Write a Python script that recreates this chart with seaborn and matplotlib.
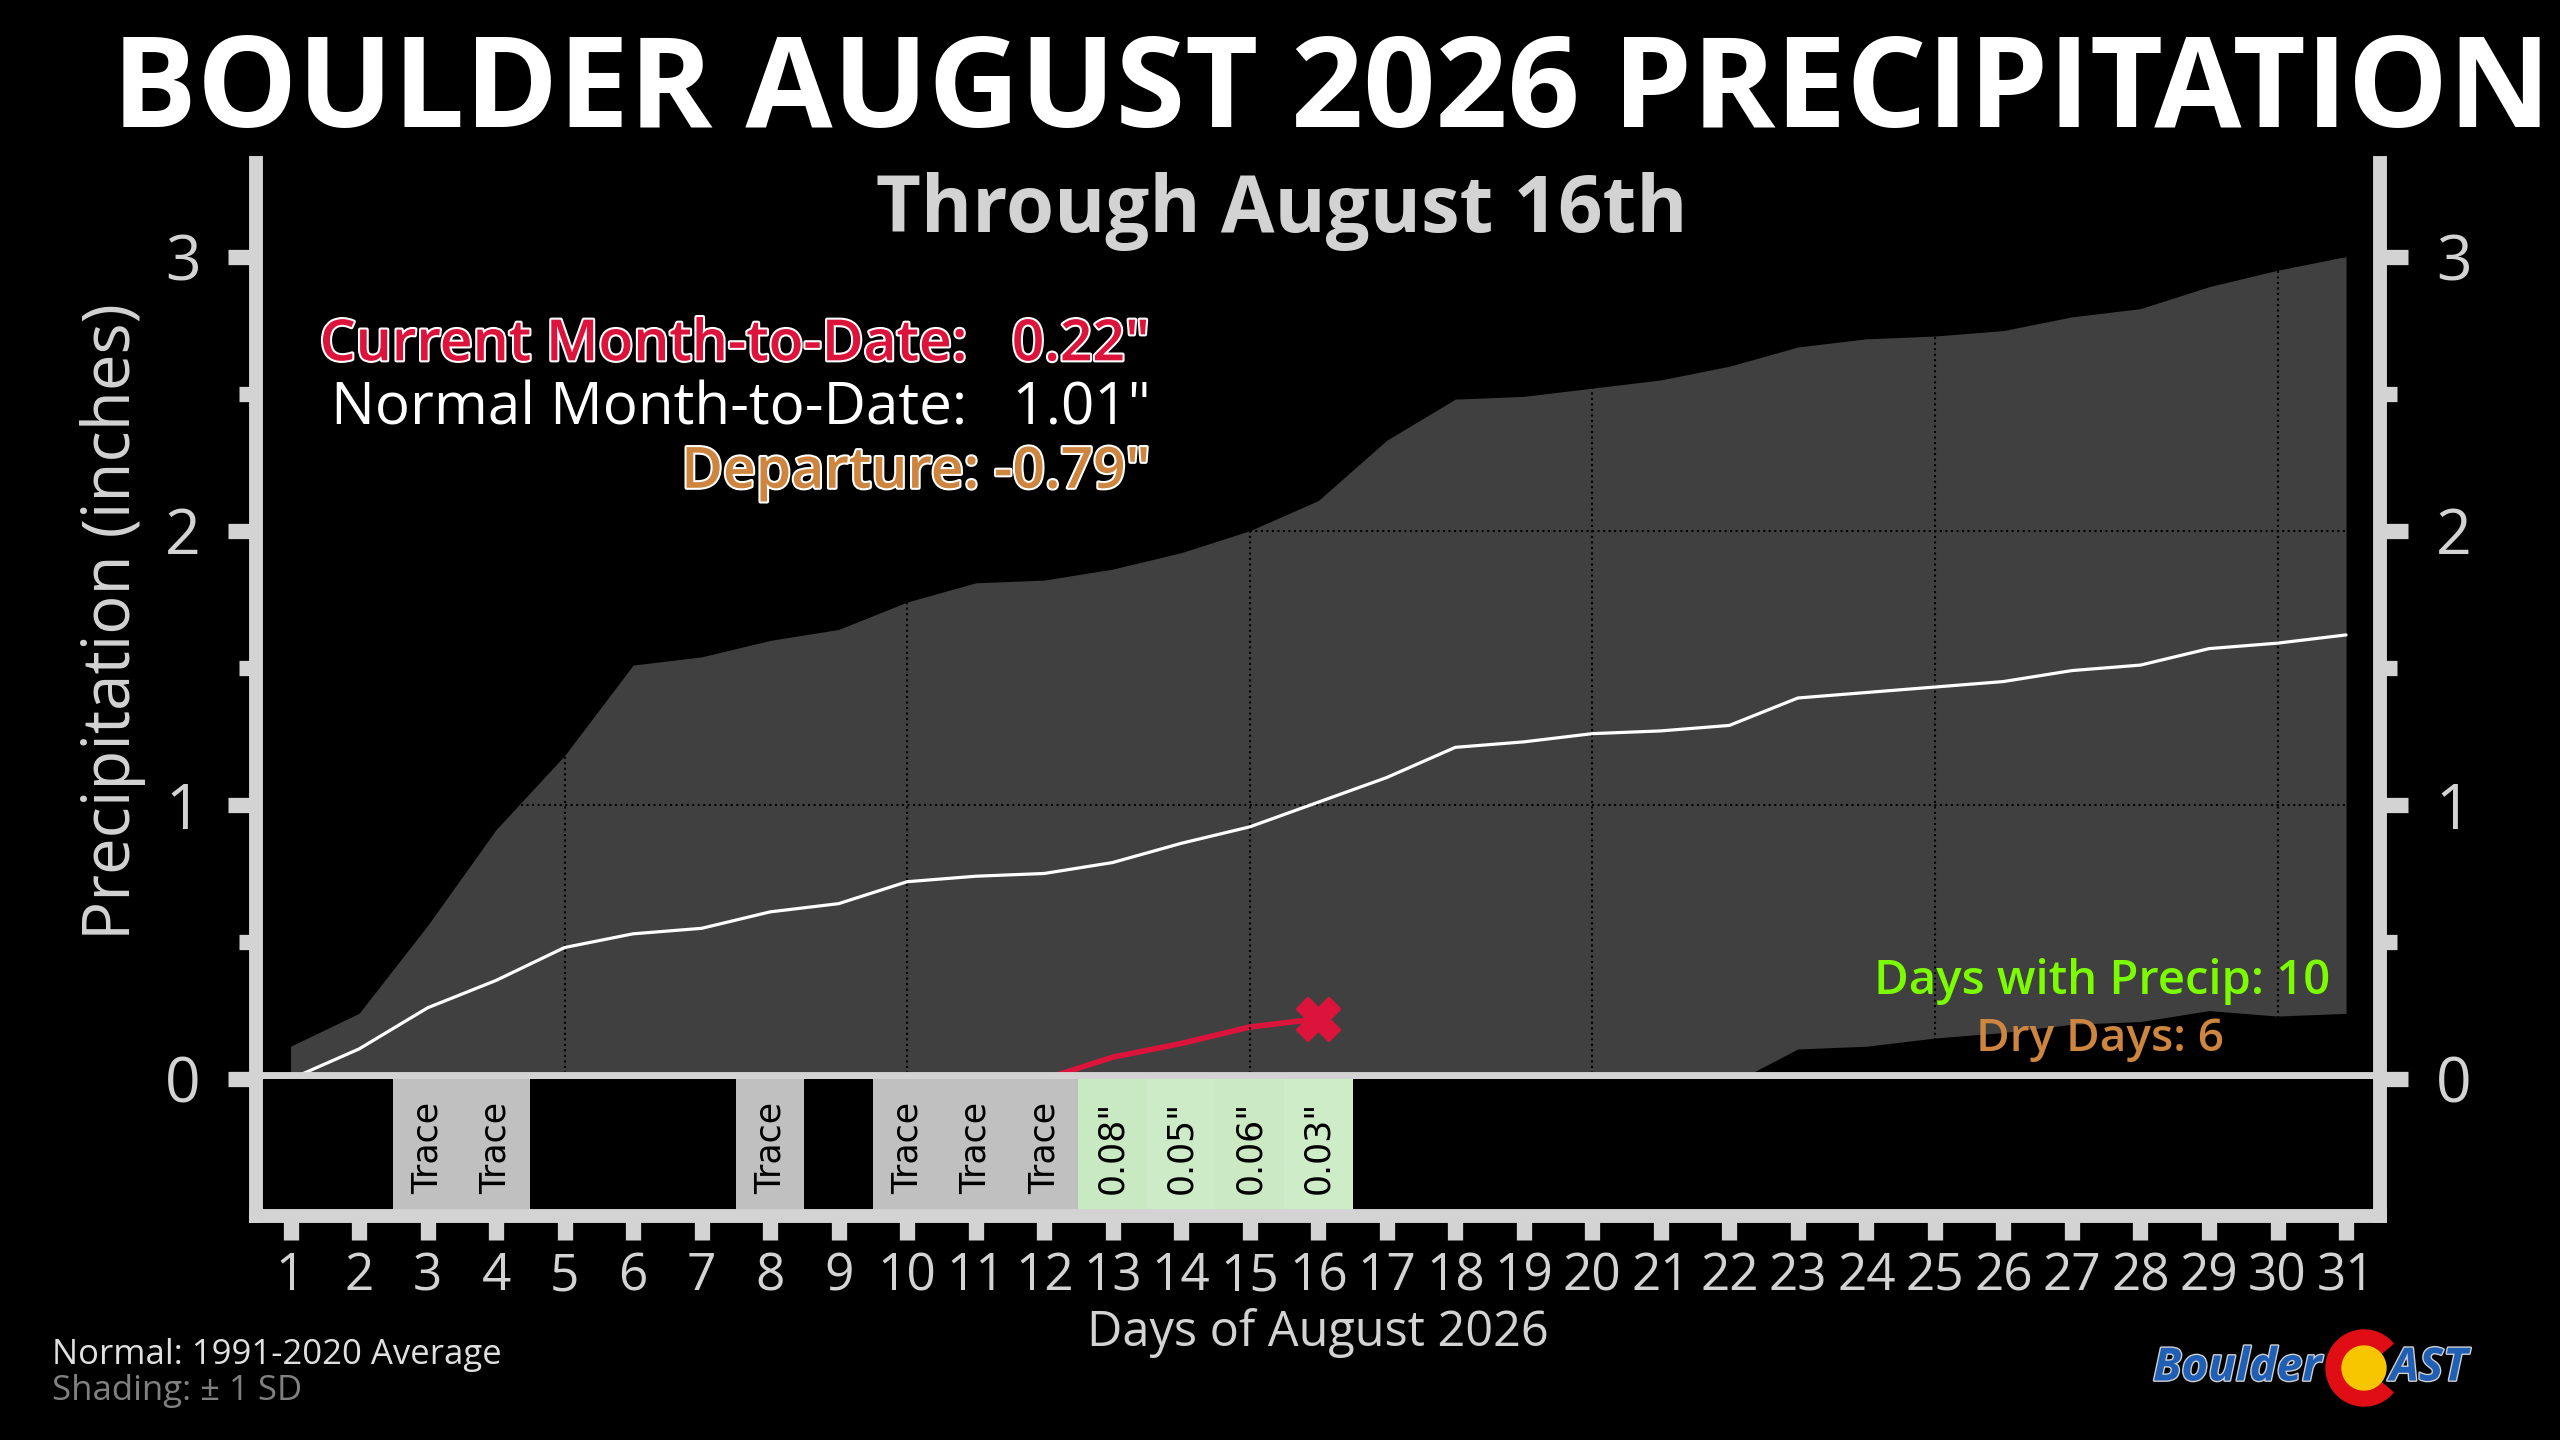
import numpy as np
import matplotlib.pyplot as plt
import matplotlib.patheffects as pe
from matplotlib.patches import Wedge, Circle
from matplotlib.ticker import FixedLocator
import seaborn as sns

# ---- data ----
days = list(range(1, 32))
normal = [0.00, 0.11, 0.26, 0.36, 0.48, 0.53, 0.55, 0.61, 0.64, 0.72, 0.74, 0.75, 0.79, 0.86, 0.92, 1.01,
          1.10, 1.21, 1.23, 1.26, 1.27, 1.29, 1.39, 1.41, 1.43, 1.45, 1.49, 1.51, 1.57, 1.59, 1.62]
sd = [0.12, 0.13, 0.30, 0.55, 0.70, 0.98, 0.99, 0.99, 1.00, 1.02, 1.07, 1.07, 1.07, 1.06, 1.08, 1.10,
      1.23, 1.27, 1.26, 1.26, 1.28, 1.31, 1.28, 1.29, 1.28, 1.28, 1.29, 1.30, 1.32, 1.36, 1.38]

obs_days = list(range(1, 17))
daily_amount = [0.0, 0.0, 0.0, 0.0, 0.0, 0.0, 0.0, 0.0, 0.0, 0.0, 0.0, 0.0, 0.08, 0.05, 0.06, 0.03]
trace_days = [3, 4, 8, 10, 11, 12]

title = "BOULDER AUGUST 2026 PRECIPITATION"
subtitle = "Through August 16th"
current_mtd = 0.22
normal_mtd = 1.01
departure = -0.79
wet_days = 10
dry_days = 6

GRAY = "#d3d3d3"
FONT = "Open Sans"

sns.set_theme(style="dark", rc={"axes.facecolor": "black", "figure.facecolor": "black"})
plt.rcParams["font.family"] = [FONT, "DejaVu Sans"]

fig = plt.figure(figsize=(25.6, 14.4), dpi=100)
ax = fig.add_axes([0.1001, 0.2506, 0.8297, 0.636])
axb = fig.add_axes([0.1001, 0.1553, 0.8297, 0.0953])

lower = np.array(normal) - np.array(sd)
upper = np.array(normal) + np.array(sd)
ax.fill_between(days, lower, upper, color="#404040", lw=0, zorder=1)
sns.lineplot(x=days, y=normal, ax=ax, color="white", lw=2.3, zorder=3)

cum = np.cumsum(daily_amount)
sns.lineplot(x=obs_days, y=cum, ax=ax, color="#dc143c", lw=4, zorder=2.3)
sns.scatterplot(x=[obs_days[-1]], y=[cum[-1]], ax=ax, marker="X", s=900, color="#dc143c",
                edgecolor="#dc143c", zorder=4)

# main axes styling
ax.set_xlim(0.5, 31.5)
ax.set_ylim(0, 3.34)
ax.set_axisbelow(False)
ax.xaxis.set_major_locator(FixedLocator([5, 10, 15, 20, 25, 30]))
ax.yaxis.set_major_locator(FixedLocator([0, 1, 2, 3]))
ax.yaxis.set_minor_locator(FixedLocator([0.5, 1.5, 2.5]))
ax.grid(True, which="major", color="black", ls=":", lw=1.5)
ax.tick_params(axis="x", bottom=False, labelbottom=False)
ax.tick_params(axis="y", which="major", left=True, right=True, labelleft=True, labelright=True,
               direction="out", length=20, width=11, color=GRAY, labelcolor=GRAY, labelsize=45, pad=20)
ax.tick_params(axis="y", which="minor", left=True, right=True, direction="out", length=12, width=11,
               color=GRAY)
for side in ["left", "right", "bottom"]:
    ax.spines[side].set_visible(True)
    ax.spines[side].set_color(GRAY)
    ax.spines[side].set_linewidth(10)
    ax.spines[side].set_capstyle("projecting")
    ax.spines[side].set_zorder(6)
ax.spines["top"].set_visible(False)
ax.set_xlabel("")
ax.set_ylabel("Precipitation (inches)", color=GRAY, fontsize=47, labelpad=14)

# daily boxes panel
for d, amt in zip(obs_days, daily_amount):
    if d in trace_days:
        color, label = "#c0c0c0", "Trace"
    elif amt > 0:
        color, label = plt.cm.Greens(0.2 + amt * 0.6), f'{amt:.2f}"'
    else:
        continue
    axb.bar(d, 1, width=1, color=color, lw=0)
    axb.text(d, 0.5, label, rotation=90, ha="center", va="center", fontsize=25, color="black",
             family="DejaVu Sans")
axb.set_xlim(0.5, 31.5)
axb.set_ylim(0, 1)
axb.set_xticks(days)
axb.set_xticklabels([str(d) for d in days])
axb.set_yticks([])
axb.grid(False)
axb.tick_params(axis="x", bottom=True, direction="out", length=17, width=11, color=GRAY,
                labelcolor=GRAY, labelsize=37, pad=8)
for side in ["left", "right", "bottom"]:
    axb.spines[side].set_visible(True)
    axb.spines[side].set_color(GRAY)
    axb.spines[side].set_linewidth(10)
    axb.spines[side].set_capstyle("projecting")
axb.spines["top"].set_visible(False)
axb.set_xlabel("Days of August 2026", color=GRAY, fontsize=35, labelpad=4)

# titles and annotations
fig.text(0.52, 0.935, title, ha="center", va="center", color="white", fontsize=91, weight="bold")
fig.text(0.5006, 0.853, subtitle, ha="center", va="center", color=GRAY, fontsize=56, weight="bold")

white_edge = [pe.withStroke(linewidth=3, foreground="white")]
fig.text(0.4496, 0.7595, f'Current Month-to-Date:   {current_mtd:.2f}"', ha="right", va="center",
         color="#dc143c", fontsize=41, weight="semibold", path_effects=white_edge)
fig.text(0.4496, 0.7155, f'Normal Month-to-Date:   {normal_mtd:.2f}"', ha="right", va="center",
         color="white", fontsize=42)
fig.text(0.4496, 0.671, f'Departure: {departure:.2f}"', ha="right", va="center",
         color="#cd853f", fontsize=41, weight="semibold", path_effects=white_edge)

fig.text(0.9101, 0.3186, f"Days with Precip: {wet_days}", ha="right", va="center",
         color="#7cfc00", fontsize=34, weight="semibold")
fig.text(0.8202, 0.278, f"Dry Days: {dry_days}", ha="center", va="center",
         color="#cd853f", fontsize=33, weight="semibold")

fig.text(0.0204, 0.059, "Normal: 1991-2020 Average", ha="left", va="center", color="#e0e0e0", fontsize=25)
fig.text(0.0204, 0.034, "Shading: \u00b1 1 SD", ha="left", va="center", color="#808080", fontsize=25)

# logo
lg = fig.add_axes([2140 / 2560, 1 - 1420 / 1440, 360 / 2560, 100 / 1440])
lg.set_xlim(0, 360)
lg.set_ylim(0, 100)
lg.axis("off")
logo_edge = [pe.withStroke(linewidth=2, foreground="#d0d0d0")]
lg.text(13, 52, "Boulder", ha="left", va="center", color="#1f5fb5", fontsize=33, weight="bold",
        style="italic", path_effects=logo_edge)
lg.add_patch(Wedge((224, 52), 38, 40, 320, width=15, color="#e00d14"))
lg.add_patch(Circle((224, 52), 22, color="#f7c600"))
lg.text(250, 52, "AST", ha="left", va="center", color="#1f5fb5", fontsize=33, weight="bold",
        style="italic", path_effects=logo_edge)

fig.savefig("out.png", dpi=100, facecolor="black")
